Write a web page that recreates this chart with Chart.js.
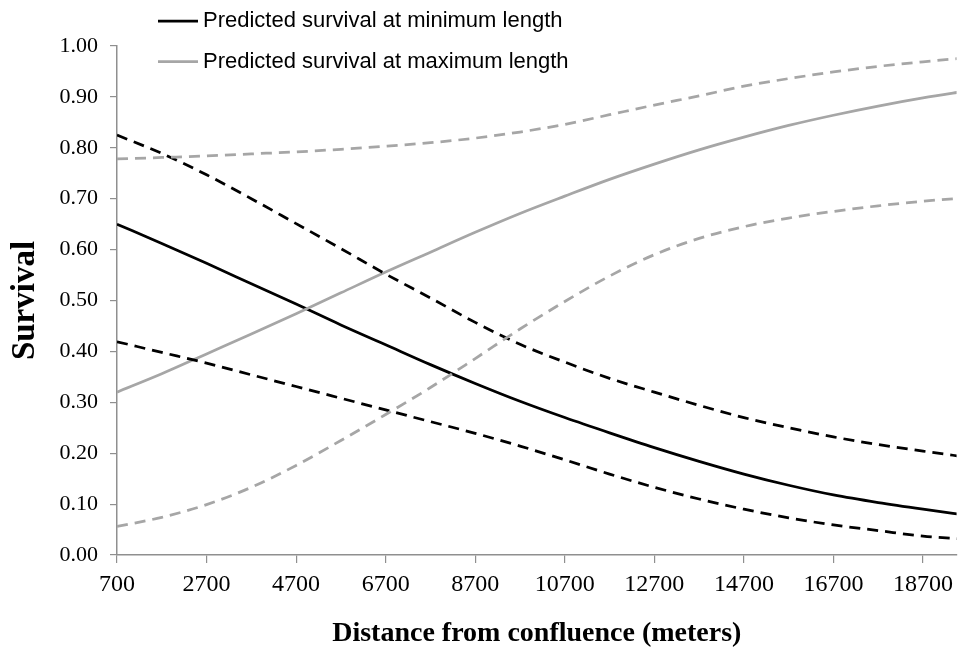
<!DOCTYPE html>
<html>
<head>
<meta charset="utf-8">
<title>Predicted survival by distance from confluence</title>
<script src="https://cdn.jsdelivr.net/npm/chart.js@4/dist/chart.umd.min.js"></script>
<style>
  html, body { margin: 0; padding: 0; background: #ffffff; }
  #wrap { width: 960px; height: 652px; position: relative; }
</style>
</head>
<body>
<div id="wrap"><canvas id="chart" width="960" height="652"></canvas></div>
<script>
// Distance from confluence (m) at which survival was predicted
const distance = [700, 1700, 2700, 3700, 4700, 5700, 6700, 7700, 8700, 9700,
                  10700, 11700, 12700, 13700, 14700, 15700, 16700, 17700, 18700, 19700];

// Minimum length: prediction and its confidence limits
const minLength      = [0.650, 0.612, 0.573, 0.533, 0.493, 0.452, 0.413, 0.374, 0.337, 0.302,
                        0.270, 0.240, 0.211, 0.184, 0.159, 0.137, 0.118, 0.103, 0.090, 0.078];
const minLengthUpper = [0.825, 0.789, 0.747, 0.700, 0.651, 0.602, 0.552, 0.505, 0.457, 0.414,
                        0.379, 0.347, 0.320, 0.294, 0.270, 0.250, 0.232, 0.217, 0.204, 0.192];
const minLengthLower = [0.419, 0.398, 0.377, 0.354, 0.331, 0.308, 0.285, 0.262, 0.239, 0.214,
                        0.187, 0.159, 0.133, 0.110, 0.090, 0.073, 0.059, 0.048, 0.037, 0.031];

// Maximum length: prediction and its confidence limits
const maxLength      = [0.320, 0.356, 0.395, 0.434, 0.474, 0.515, 0.556, 0.595, 0.634, 0.671,
                        0.705, 0.738, 0.768, 0.796, 0.821, 0.844, 0.864, 0.882, 0.898, 0.912];
const maxLengthUpper = [0.778, 0.781, 0.784, 0.788, 0.792, 0.797, 0.803, 0.810, 0.819, 0.831,
                        0.846, 0.865, 0.884, 0.902, 0.921, 0.936, 0.949, 0.960, 0.969, 0.977];
const maxLengthLower = [0.056, 0.074, 0.099, 0.133, 0.176, 0.225, 0.276, 0.329, 0.386, 0.444,
                        0.498, 0.548, 0.590, 0.622, 0.645, 0.662, 0.675, 0.686, 0.695, 0.702];

// Axis tick labels
const xTickValues = [700, 2700, 4700, 6700, 8700, 10700, 12700, 14700, 16700, 18700];
const yTickValues = [0, 0.1, 0.2, 0.3, 0.4, 0.5, 0.6, 0.7, 0.8, 0.9, 1.0];

const BLACK = '#000000';
const GREY = '#a6a6a6';
const AXIS = '#8f8f8f';
const DASH = [11, 7];

const points = (ys) => distance.map((x, i) => ({ x: x, y: ys[i] }));

function series(label, ys, color, dashed, legendRow) {
  return {
    label: label,
    data: points(ys),
    borderColor: color,
    backgroundColor: color,
    borderWidth: 2.75,
    borderDash: dashed ? DASH : [],
    pointRadius: 0,
    pointHoverRadius: 0,
    fill: false,
    cubicInterpolationMode: 'monotone',
    legendRow: legendRow
  };
}

// Two-row legend at the top left, drawn from the solid series
const stackedLegend = {
  id: 'stackedLegend',
  afterDraw(chart) {
    const ctx = chart.ctx;
    const items = chart.data.datasets
      .filter(d => d.legendRow !== null)
      .sort((a, b) => a.legendRow - b.legendRow);
    ctx.save();
    ctx.font = '22px "Liberation Sans", Arial, sans-serif';
    ctx.textBaseline = 'middle';
    ctx.textAlign = 'left';
    items.forEach((ds, i) => {
      const y = 21 + i * 40.5;
      ctx.strokeStyle = ds.borderColor;
      ctx.lineWidth = ds.borderWidth;
      ctx.setLineDash([]);
      ctx.beginPath();
      ctx.moveTo(158, y);
      ctx.lineTo(198, y);
      ctx.stroke();
      ctx.fillStyle = '#000000';
      ctx.fillText(ds.label, 203, y);
    });
    ctx.restore();
  }
};

new Chart(document.getElementById('chart'), {
  type: 'line',
  data: {
    datasets: [
      series('Upper limit, maximum length', maxLengthUpper, GREY, true, null),
      series('Lower limit, maximum length', maxLengthLower, GREY, true, null),
      series('Upper limit, minimum length', minLengthUpper, BLACK, true, null),
      series('Lower limit, minimum length', minLengthLower, BLACK, true, null),
      series('Predicted survival at maximum length', maxLength, GREY, false, 1),
      series('Predicted survival at minimum length', minLength, BLACK, false, 0)
    ]
  },
  options: {
    responsive: false,
    animation: false,
    events: [],
    layout: { padding: { top: 46, right: 0, bottom: 0, left: 0 } },
    plugins: {
      legend: { display: false },
      tooltip: { enabled: false },
      title: { display: false }
    },
    scales: {
      x: {
        type: 'linear',
        min: 700,
        max: 19450,
        afterBuildTicks: (scale) => { scale.ticks = xTickValues.map(v => ({ value: v })); },
        afterFit: (scale) => { scale.height = 97; },
        border: { display: true, color: AXIS, width: 1.5 },
        grid: { drawOnChartArea: false, drawTicks: true, tickLength: 8, color: AXIS, lineWidth: 1.2 },
        ticks: {
          autoSkip: false,
          maxRotation: 0,
          padding: 7,
          color: '#000000',
          font: { family: '"Liberation Serif", "Times New Roman", serif', size: 24 },
          callback: (v) => String(v)
        },
        title: {
          display: true,
          text: 'Distance from confluence (meters)',
          color: '#000000',
          padding: { top: 0, bottom: 1 },
          font: { family: '"Liberation Serif", "Times New Roman", serif', size: 28, weight: 'bold' }
        }
      },
      y: {
        type: 'linear',
        min: 0,
        max: 1,
        afterBuildTicks: (scale) => { scale.ticks = yTickValues.map(v => ({ value: v })); },
        afterFit: (scale) => { scale.width = 117; },
        border: { display: true, color: AXIS, width: 1.5 },
        grid: { drawOnChartArea: false, drawTicks: true, tickLength: 7, color: AXIS, lineWidth: 1.2 },
        ticks: {
          padding: 12,
          color: '#000000',
          font: { family: '"Liberation Serif", "Times New Roman", serif', size: 22 },
          callback: (v) => Number(v).toFixed(2)
        },
        title: {
          display: true,
          text: 'Survival',
          color: '#000000',
          padding: { top: 6, bottom: 0 },
          font: { family: '"Liberation Serif", "Times New Roman", serif', size: 33, weight: 'bold' }
        }
      }
    }
  },
  plugins: [stackedLegend]
});
</script>
</body>
</html>
